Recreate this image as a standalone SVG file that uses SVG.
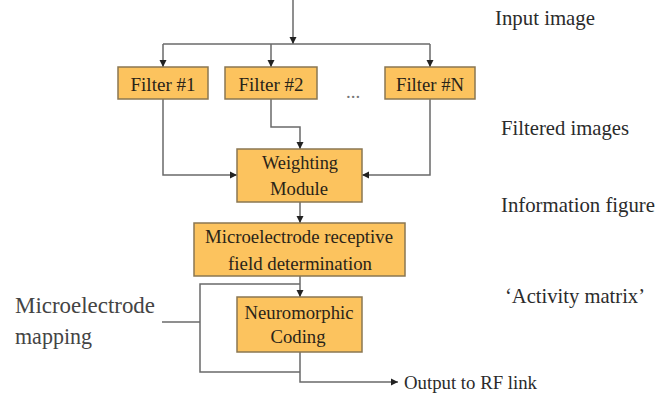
<svg xmlns="http://www.w3.org/2000/svg" width="667" height="398" viewBox="0 0 667 398" font-family="'Liberation Serif', 'Times New Roman', serif">
<defs>
<style>
.box{fill:#FCC35E;stroke:#8A7752;stroke-width:1.5}
.bt{font-family:'Liberation Serif','Times New Roman',serif;font-size:19px;fill:#2a2418;text-anchor:middle}
.lbl{font-family:'Liberation Serif','Times New Roman',serif;font-size:21px;fill:#2b2b2b}
.ln{fill:none;stroke:#6a6a6a;stroke-width:1.5}
</style>
<marker id="ah" markerUnits="userSpaceOnUse" markerWidth="8" markerHeight="8" refX="7" refY="4" orient="auto">
<path d="M0,0.5 L7,4 L0,7.5 Z" fill="#222"/>
</marker>
</defs>
<rect width="667" height="398" fill="#fff"/>
<g id="connectors">
<path class="ln" d="M293,0 V44" marker-end="url(#ah)"/>
<path class="ln" d="M163,44 H430"/>
<path class="ln" d="M163,44 V67" marker-end="url(#ah)"/>
<path class="ln" d="M271,44 V67" marker-end="url(#ah)"/>
<path class="ln" d="M430,44 V67" marker-end="url(#ah)"/>
<path class="ln" d="M163,99 V175 H237" marker-end="url(#ah)"/>
<path class="ln" d="M271,99 V127 H300 V149" marker-end="url(#ah)"/>
<path class="ln" d="M430,99 V175 H362" marker-end="url(#ah)"/>
<path class="ln" d="M300,202 V223" marker-end="url(#ah)"/>
<path class="ln" d="M300,276 V297" marker-end="url(#ah)"/>
<path class="ln" d="M300,284 H200 V372 H300"/>
<path class="ln" d="M300,352 V382 H398" marker-end="url(#ah)"/>
<path class="ln" d="M162,322 H200"/>
</g>
<g id="filter1">
<rect class="box" x="118" y="67" width="90" height="32"/>
<text class="bt" x="163" y="91" textLength="65" lengthAdjust="spacingAndGlyphs">Filter #1</text>
</g>
<g id="filter2">
<rect class="box" x="225" y="67" width="92" height="32"/>
<text class="bt" x="271" y="91" textLength="65" lengthAdjust="spacingAndGlyphs">Filter #2</text>
</g>
<g id="dots">
<text class="bt" x="353" y="98" style="fill:#777">...</text>
</g>
<g id="filterN">
<rect class="box" x="385" y="67" width="90" height="32"/>
<text class="bt" x="430" y="91" textLength="68" lengthAdjust="spacingAndGlyphs">Filter #N</text>
</g>
<g id="weighting">
<rect class="box" x="237" y="149" width="125" height="53"/>
<text class="bt" x="300" y="169" textLength="76" lengthAdjust="spacingAndGlyphs">Weighting</text>
<text class="bt" x="299" y="195" textLength="58" lengthAdjust="spacingAndGlyphs">Module</text>
</g>
<g id="microelectrode">
<rect class="box" x="194" y="223" width="211" height="53"/>
<text class="bt" x="299" y="243" textLength="188" lengthAdjust="spacingAndGlyphs">Microelectrode receptive</text>
<text class="bt" x="300" y="270" textLength="144" lengthAdjust="spacingAndGlyphs">field determination</text>
</g>
<g id="neuromorphic">
<rect class="box" x="237" y="297" width="125" height="55"/>
<text class="bt" x="299" y="319" textLength="109" lengthAdjust="spacingAndGlyphs">Neuromorphic</text>
<text class="bt" x="298" y="343" textLength="55" lengthAdjust="spacingAndGlyphs">Coding</text>
</g>
<g id="labels">
<text class="lbl" x="495" y="25" textLength="100" lengthAdjust="spacingAndGlyphs">Input image</text>
<text class="lbl" x="501" y="135" textLength="128" lengthAdjust="spacingAndGlyphs">Filtered images</text>
<text class="lbl" x="501" y="212" textLength="154" lengthAdjust="spacingAndGlyphs">Information figure</text>
<text class="lbl" x="505" y="303" textLength="140" lengthAdjust="spacingAndGlyphs">‘Activity matrix’</text>
<text class="lbl" x="404" y="389" style="font-size:19px" textLength="133" lengthAdjust="spacingAndGlyphs">Output to RF link</text>
<text class="lbl" x="15" y="313" style="font-size:23px;fill:#444" textLength="140" lengthAdjust="spacingAndGlyphs">Microelectrode</text>
<text class="lbl" x="15" y="344" style="font-size:23px;fill:#444" textLength="77" lengthAdjust="spacingAndGlyphs">mapping</text>
</g>
</svg>
